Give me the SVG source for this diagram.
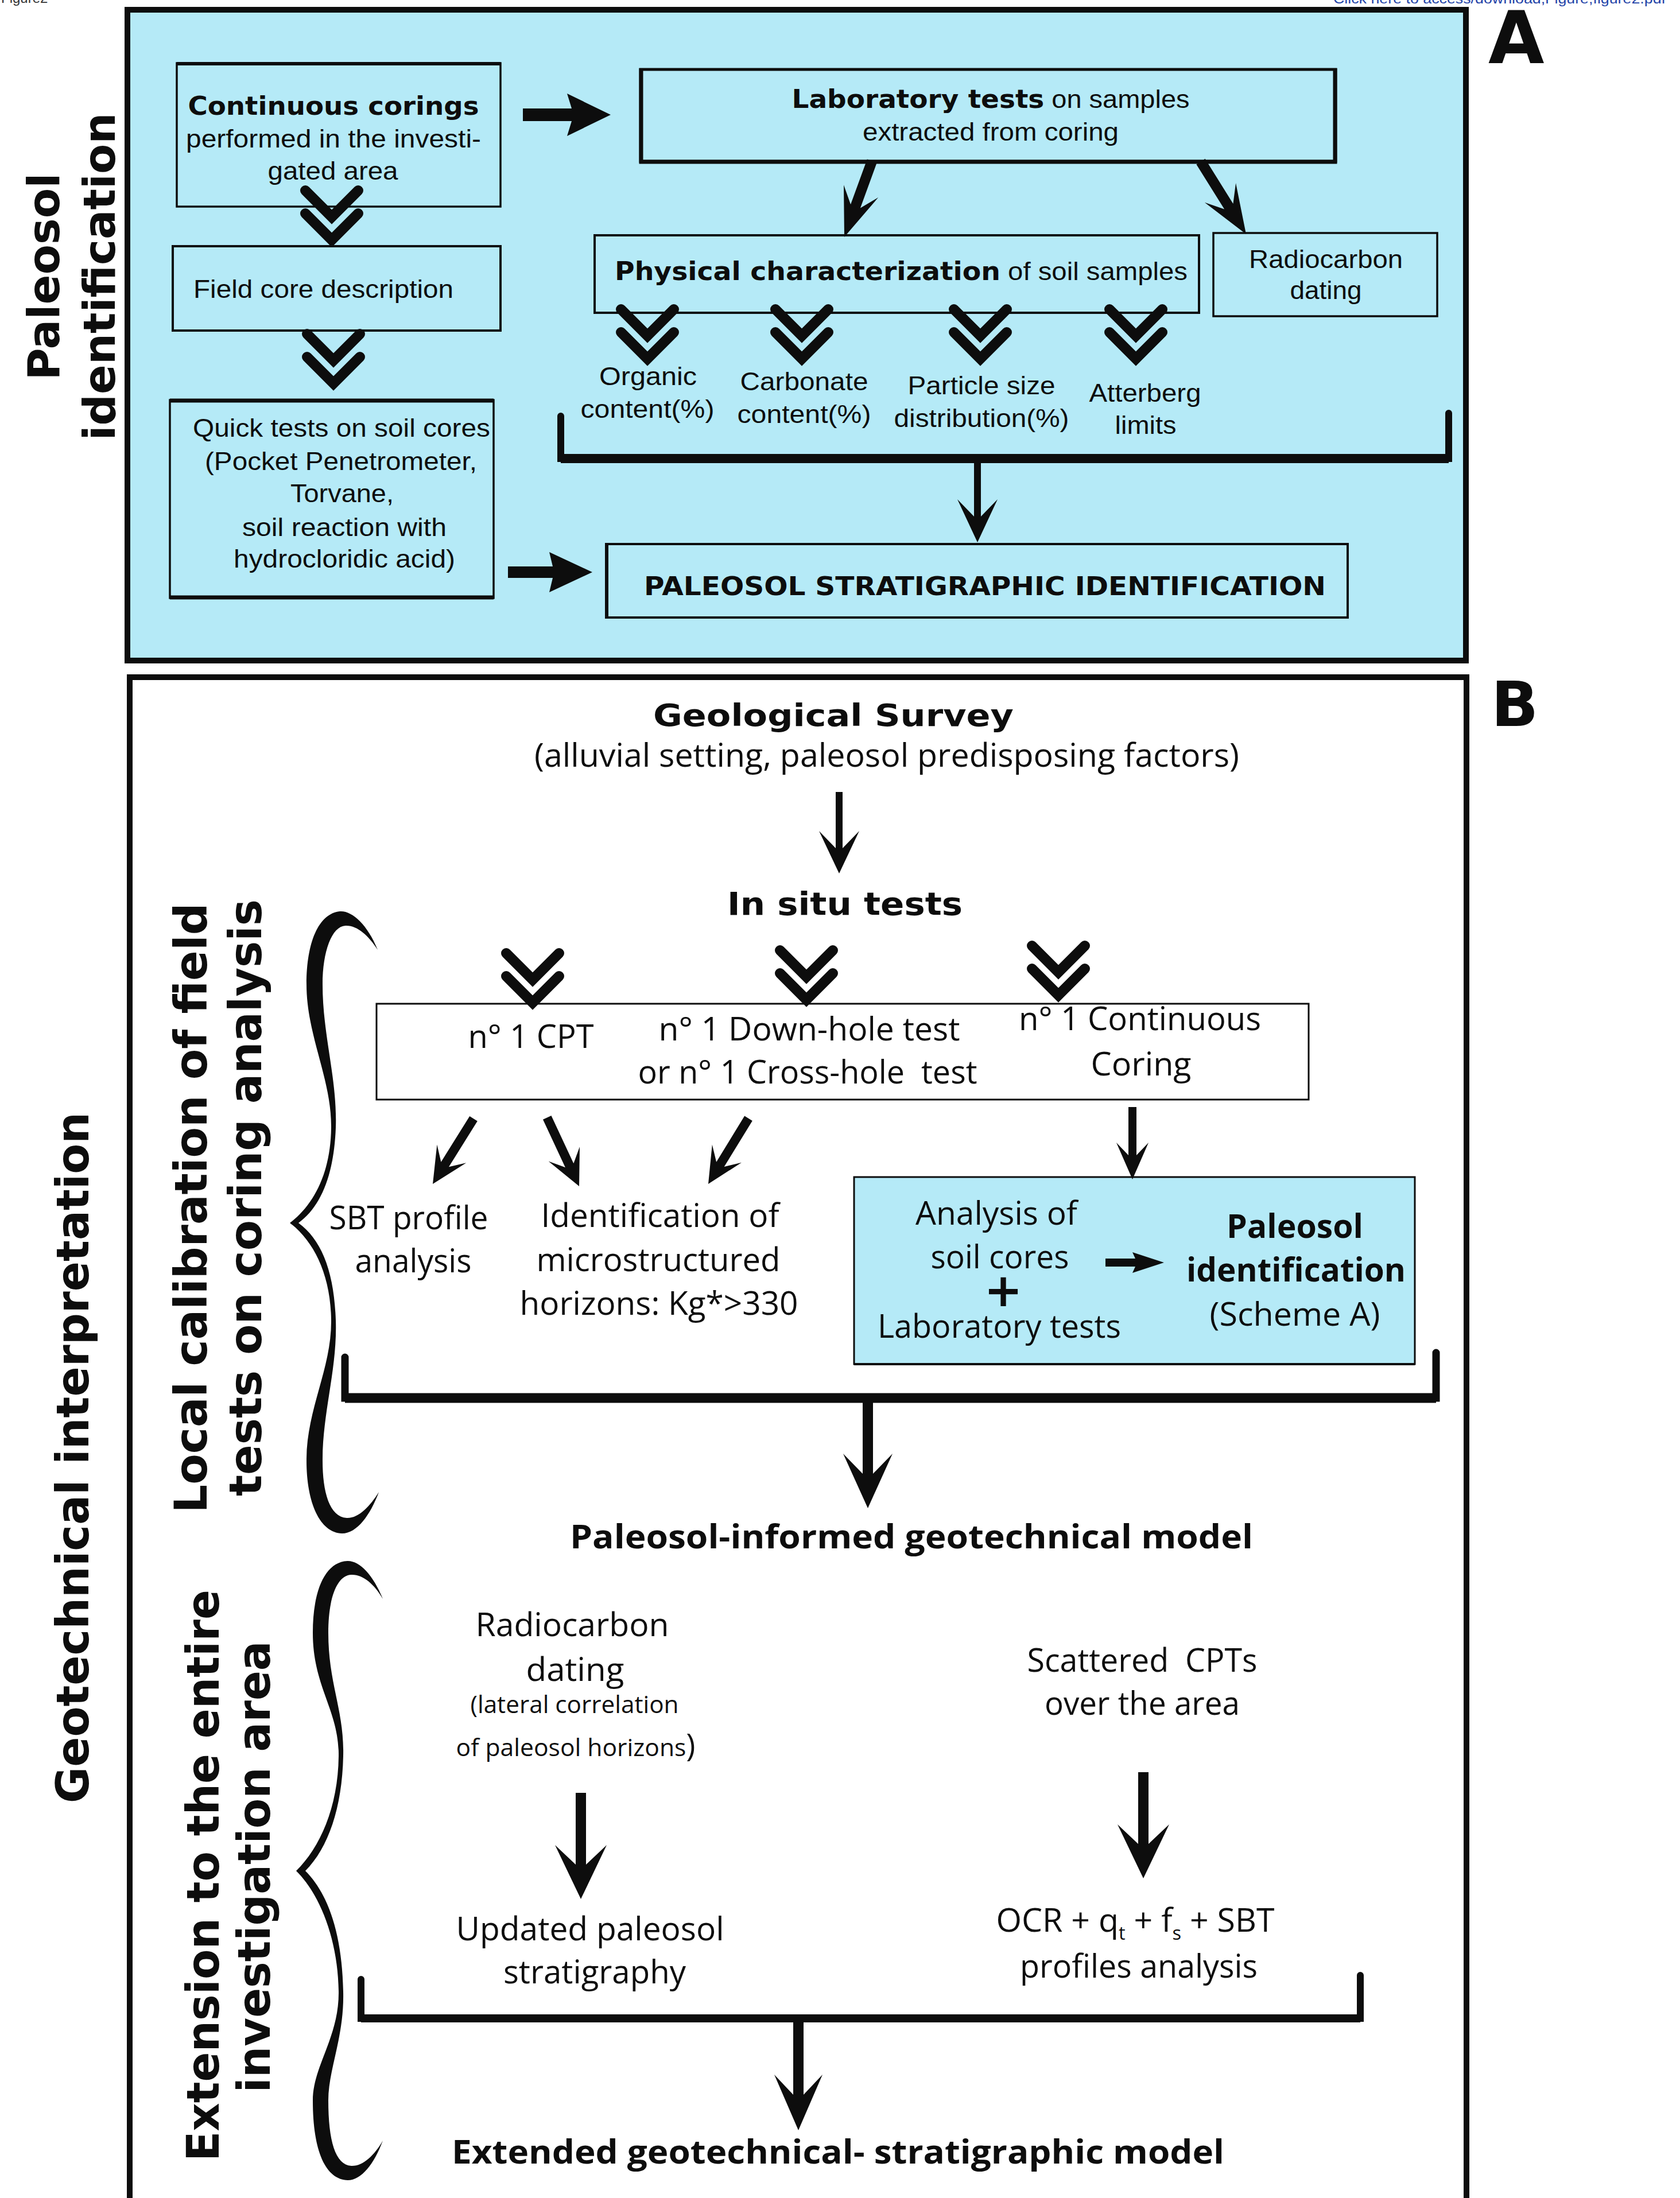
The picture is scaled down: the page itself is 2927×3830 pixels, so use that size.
<svg xmlns="http://www.w3.org/2000/svg" xmlns:xlink="http://www.w3.org/1999/xlink" width="2927" height="3830" viewBox="0 0 2927 3830">
<style>
text{fill:#0d0d0d}
.a{font-family:"Liberation Sans",Arial,sans-serif;font-size:44px}
.ab{font-family:"DejaVu Sans","Liberation Sans",sans-serif;font-weight:bold}
.b{font-family:"Open Sans","Noto Sans",sans-serif;font-size:56px}
.bs{font-family:"Open Sans","Noto Sans",sans-serif;font-size:42px}
.bb{font-family:"Open Sans","Noto Sans",sans-serif;font-weight:bold;font-size:58px}
.v{font-family:"DejaVu Sans","Liberation Sans",sans-serif;font-weight:bold;font-size:78px}
.m{text-anchor:middle}
.box{fill:#b5eaf7;stroke:#0d0d0d}
.wbox{fill:#ffffff;stroke:#0d0d0d}
.br{fill:none;stroke:#0d0d0d;stroke-linecap:round}
.arr{fill:#0d0d0d}
</style>
<defs>
<g id="dc" fill="none" stroke="#0d0d0d" stroke-width="18" stroke-linecap="round" stroke-linejoin="miter" stroke-miterlimit="6">
<polyline points="-46,0 0,46 46,0"/>
<polyline points="-46,40 0,86 46,40"/>
</g>
</defs>

<!-- header -->
<text x="2" y="5" font-family="Liberation Sans,Arial,sans-serif" font-size="24" style="fill:#333">Figure2</text>
<text x="2323" y="6" font-family="Liberation Sans,Arial,sans-serif" font-size="24" style="fill:#1f43a8" textLength="579" lengthAdjust="spacingAndGlyphs">Click here to access/download;Figure;figure2.pdf</text>

<!-- Panel frames -->
<g id="panelA">
<rect x="222" y="17" width="2332" height="1134" class="box" stroke-width="10"/>
<text x="2593" y="110" class="ab" font-size="126">A</text>
<text transform="translate(103,482) rotate(-90)" class="ab m" font-size="76" textLength="361" lengthAdjust="spacingAndGlyphs">Paleosol</text>
<text transform="translate(200,482) rotate(-90)" class="ab m" font-size="76" textLength="571" lengthAdjust="spacingAndGlyphs">identification</text>
</g>
<g id="panelB">
<rect x="226" y="1180" width="2329" height="2700" class="wbox" stroke-width="10"/>
<text x="2598" y="1265" class="ab" font-size="108">B</text>
<text transform="translate(154,2540) rotate(-90)" class="v m" font-size="80" textLength="1204" lengthAdjust="spacingAndGlyphs">Geotechnical interpretation</text>
<text transform="translate(360,2105) rotate(-90)" class="v m" font-size="76" textLength="1063" lengthAdjust="spacingAndGlyphs">Local calibration of field</text>
<text transform="translate(455,2087) rotate(-90)" class="v m" font-size="76" textLength="1040" lengthAdjust="spacingAndGlyphs">tests on coring analysis</text>
<text transform="translate(381,3268) rotate(-90)" class="v m" font-size="78" textLength="996" lengthAdjust="spacingAndGlyphs">Extension to the entire</text>
<text transform="translate(470,3253) rotate(-90)" class="v m" font-size="78" textLength="787" lengthAdjust="spacingAndGlyphs">investigation area</text>
</g>

<!-- Panel A nodes -->
<g id="continuous">
<rect x="308" y="110" width="564" height="250" class="box" stroke-width="3.5"/>
<line x1="308" y1="111" x2="872" y2="111" stroke="#0d0d0d" stroke-width="6"/>
<text x="581" y="200" class="ab m" font-size="44" textLength="507" lengthAdjust="spacingAndGlyphs">Continuous corings</text>
<text x="581" y="257" class="a m" textLength="514" lengthAdjust="spacingAndGlyphs">performed in the investi-</text>
<text x="580" y="313" class="a m" textLength="227" lengthAdjust="spacingAndGlyphs">gated area</text>
</g>
<g id="fieldcore">
<rect x="301" y="429" width="571" height="147" class="box" stroke-width="4"/>
<text x="337" y="519" class="a" textLength="453" lengthAdjust="spacingAndGlyphs">Field core description</text>
</g>
<g id="quicktests">
<rect x="296" y="697" width="564" height="345" class="box" stroke-width="3.5"/>
<line x1="296" y1="698" x2="860" y2="698" stroke="#0d0d0d" stroke-width="7"/>
<line x1="296" y1="1041" x2="860" y2="1041" stroke="#0d0d0d" stroke-width="7"/>
<text x="595" y="761" class="a m" textLength="518" lengthAdjust="spacingAndGlyphs">Quick tests on soil cores</text>
<text x="594" y="819" class="a m" textLength="474" lengthAdjust="spacingAndGlyphs">(Pocket Penetrometer,</text>
<text x="596" y="875" class="a m" textLength="180" lengthAdjust="spacingAndGlyphs">Torvane,</text>
<text x="600" y="934" class="a m" textLength="356" lengthAdjust="spacingAndGlyphs">soil reaction with</text>
<text x="600" y="989" class="a m" textLength="386" lengthAdjust="spacingAndGlyphs">hydrocloridic acid)</text>
</g>
<g id="labtests">
<rect x="1116" y="121" width="1211" height="160" class="box" stroke-width="5"/>
<path d="M1117,119 L1117,282 L2326,282 L2326,119" fill="none" stroke="#0d0d0d" stroke-width="7"/>
<text x="1726" y="188" class="a m" textLength="693" lengthAdjust="spacingAndGlyphs"><tspan class="ab" font-size="44">Laboratory tests</tspan> on samples</text>
<text x="1726" y="245" class="a m" textLength="446" lengthAdjust="spacingAndGlyphs">extracted from coring</text>
</g>
<g id="physical">
<rect x="1036" y="410" width="1053" height="135" class="box" stroke-width="4"/>
<text x="1570" y="488" class="a m" textLength="998" lengthAdjust="spacingAndGlyphs"><tspan class="ab" font-size="44">Physical characterization</tspan> of soil samples</text>
</g>
<g id="radiocarbonA">
<rect x="2114" y="406" width="390" height="145" class="box" stroke-width="3.5"/>
<text x="2310" y="467" class="a m" textLength="268" lengthAdjust="spacingAndGlyphs">Radiocarbon</text>
<text x="2310" y="521" class="a m" textLength="125" lengthAdjust="spacingAndGlyphs">dating</text>
</g>
<g id="organic">
<text x="1129" y="671" class="a m" textLength="170" lengthAdjust="spacingAndGlyphs">Organic</text>
<text x="1128" y="728" class="a m" textLength="233" lengthAdjust="spacingAndGlyphs">content(%)</text>
</g>
<g id="carbonate">
<text x="1401" y="680" class="a m" textLength="223" lengthAdjust="spacingAndGlyphs">Carbonate</text>
<text x="1401" y="737" class="a m" textLength="233" lengthAdjust="spacingAndGlyphs">content(%)</text>
</g>
<g id="particle">
<text x="1710" y="687" class="a m" textLength="257" lengthAdjust="spacingAndGlyphs">Particle size</text>
<text x="1710" y="744" class="a m" textLength="305" lengthAdjust="spacingAndGlyphs">distribution(%)</text>
</g>
<g id="atterberg">
<text x="1995" y="700" class="a m" textLength="195" lengthAdjust="spacingAndGlyphs">Atterberg</text>
<text x="1996" y="756" class="a m" textLength="107" lengthAdjust="spacingAndGlyphs">limits</text>
</g>
<g id="paleosolstrat">
<rect x="1056" y="948" width="1292" height="128" class="box" stroke-width="4"/>
<line x1="1057" y1="946" x2="1057" y2="1078" stroke="#0d0d0d" stroke-width="6"/>
<text x="1716" y="1037" class="ab m" font-size="44" textLength="1188" lengthAdjust="spacingAndGlyphs">PALEOSOL STRATIGRAPHIC IDENTIFICATION</text>
</g>

<!-- Panel B nodes -->
<g id="geosurvey">
<text x="1452" y="1265" class="ab m" font-size="54" textLength="628" lengthAdjust="spacingAndGlyphs">Geological Survey</text>
<text x="1545" y="1336" class="b m" textLength="1228" lengthAdjust="spacingAndGlyphs">(alluvial setting, paleosol predisposing factors)</text>
</g>
<g id="insitu">
<text x="1472" y="1594" class="ab m" font-size="56" textLength="410" lengthAdjust="spacingAndGlyphs">In situ tests</text>
</g>
<g id="insitubox">
<rect x="656" y="1749" width="1624" height="167" class="wbox" stroke-width="3"/>
<text x="925" y="1826" class="b m" textLength="219" lengthAdjust="spacingAndGlyphs">n° 1 CPT</text>
<text x="1410" y="1813" class="b m" textLength="525" lengthAdjust="spacingAndGlyphs">n° 1 Down-hole test</text>
<text x="1407" y="1888" class="b m" textLength="591" lengthAdjust="spacingAndGlyphs">or n° 1 Cross-hole&#160; test</text>
<text x="1986" y="1795" class="b m" textLength="422" lengthAdjust="spacingAndGlyphs">n° 1 Continuous</text>
<text x="1988" y="1874" class="b m" textLength="175" lengthAdjust="spacingAndGlyphs">Coring</text>
</g>
<g id="sbt">
<text x="712" y="2142" class="b m" textLength="277" lengthAdjust="spacingAndGlyphs">SBT profile</text>
<text x="720" y="2217" class="b m" textLength="203" lengthAdjust="spacingAndGlyphs">analysis</text>
</g>
<g id="microstructured">
<text x="1150" y="2138" class="b m" textLength="415" lengthAdjust="spacingAndGlyphs">Identification of</text>
<text x="1147" y="2215" class="b m" textLength="425" lengthAdjust="spacingAndGlyphs">microstructured</text>
<text x="1148" y="2291" class="b m" textLength="485" lengthAdjust="spacingAndGlyphs">horizons: Kg*&gt;330</text>
</g>
<g id="analysisbox">
<rect x="1488" y="2051" width="977" height="326" class="box" stroke-width="3"/>
<line x1="1488" y1="2377" x2="2465" y2="2377" stroke="#0d0d0d" stroke-width="4"/>
<text x="1736" y="2134" class="b m" textLength="282" lengthAdjust="spacingAndGlyphs">Analysis of</text>
<text x="1742" y="2210" class="b m" textLength="241" lengthAdjust="spacingAndGlyphs">soil cores</text>
<text x="1748" y="2276" class="ab m" font-size="80">+</text>
<text x="1741" y="2331" class="b m" textLength="424" lengthAdjust="spacingAndGlyphs">Laboratory tests</text>
<path class="arr" d="M1926,2193 L1978,2193 L1973,2182 L2028,2200 L1973,2218 L1978,2207 L1926,2207 Z"/>
<text x="2256" y="2157" class="bb m" textLength="238" lengthAdjust="spacingAndGlyphs">Paleosol</text>
<text x="2258" y="2233" class="bb m" textLength="382" lengthAdjust="spacingAndGlyphs">identification</text>
<text x="2256" y="2310" class="b m" textLength="297" lengthAdjust="spacingAndGlyphs">(Scheme A)</text>
</g>
<g id="informedmodel">
<text x="1588" y="2698" class="bb m" textLength="1190" lengthAdjust="spacingAndGlyphs">Paleosol-informed geotechnical model</text>
</g>
<g id="radiocarbonB">
<text x="997" y="2851" class="b m" textLength="337" lengthAdjust="spacingAndGlyphs">Radiocarbon</text>
<text x="1002" y="2929" class="b m" textLength="171" lengthAdjust="spacingAndGlyphs">dating</text>
<text x="1001" y="2985" class="bs m" textLength="363" lengthAdjust="spacingAndGlyphs">(lateral correlation</text>
<text x="1003" y="3060" class="bs m" textLength="417" lengthAdjust="spacingAndGlyphs">of paleosol horizons<tspan font-size="54">)</tspan></text>
</g>
<g id="scattered">
<text x="1990" y="2913" class="b m" textLength="401" lengthAdjust="spacingAndGlyphs">Scattered&#160; CPTs</text>
<text x="1990" y="2988" class="b m" textLength="340" lengthAdjust="spacingAndGlyphs">over the area</text>
</g>
<g id="updated">
<text x="1028" y="3381" class="b m" textLength="467" lengthAdjust="spacingAndGlyphs">Updated paleosol</text>
<text x="1036" y="3456" class="b m" textLength="318" lengthAdjust="spacingAndGlyphs">stratigraphy</text>
</g>
<g id="ocr">
<text x="1978" y="3366" class="b m" textLength="485" lengthAdjust="spacingAndGlyphs">OCR + q<tspan dy="14" font-size="32">t</tspan><tspan dy="-14"> + f</tspan><tspan dy="14" font-size="32">s</tspan><tspan dy="-14"> + SBT</tspan></text>
<text x="1984" y="3446" class="b m" textLength="414" lengthAdjust="spacingAndGlyphs">profiles analysis</text>
</g>
<g id="extendedmodel">
<text x="1460" y="3770" class="bb m" textLength="1346" lengthAdjust="spacingAndGlyphs">Extended geotechnical- stratigraphic model</text>
</g>

<!-- Connectors -->
<g id="connectors">
<!-- block arrows -->
<path class="arr" d="M911,189 L996,189 L988,163 L1064,200 L988,237 L996,211 L911,211 Z"/>
<path class="arr" d="M885,987 L963,987 L957,962 L1032,997 L957,1032 L963,1007 L885,1007 Z"/>
<!-- double chevrons -->
<use xlink:href="#dc" x="578" y="332"/>
<use xlink:href="#dc" x="581" y="582"/>
<use xlink:href="#dc" x="1128" y="539"/>
<use xlink:href="#dc" x="1397" y="539"/>
<use xlink:href="#dc" x="1708" y="539"/>
<use xlink:href="#dc" x="1979" y="539"/>
<use xlink:href="#dc" x="928" y="1661"/>
<use xlink:href="#dc" x="1405" y="1656"/>
<use xlink:href="#dc" x="1844" y="1648"/>
<!-- barbed arrows panel A -->
<path class="arr" transform="translate(1471,413) rotate(20)" d="M-9,-141 L-9,-57 L-32,-85 L0,0 L32,-85 L9,-57 L9,-141 Z"/>
<path class="arr" transform="translate(2171,408) rotate(-32)" d="M-9,-149 L-9,-57 L-32,-85 L0,0 L32,-85 L9,-57 L9,-149 Z"/>
<path class="arr" transform="translate(1703,945)" d="M-6,-140 L-6,-45 L-35,-75 L0,0 L35,-75 L6,-45 L6,-140 Z"/>
<!-- bracket A -->
<path class="br" d="M977,725 L977,799 L2524,799 L2524,720" stroke-width="12"/>
<line x1="977" y1="799" x2="2524" y2="799" stroke="#0d0d0d" stroke-width="16"/>
<!-- panel B arrows -->
<path class="arr" transform="translate(1462,1522)" d="M-6,-142 L-6,-44 L-35,-74 L0,0 L35,-74 L6,-44 L6,-142 Z"/>
<path class="arr" transform="translate(754,2063) rotate(32)" d="M-8,-134 L-8,-40 L-30,-62 L0,0 L30,-62 L8,-40 L8,-134 Z"/>
<path class="arr" transform="translate(1009,2067) rotate(-25)" d="M-8,-132 L-8,-40 L-30,-62 L0,0 L30,-62 L8,-40 L8,-132 Z"/>
<path class="arr" transform="translate(1234,2063) rotate(31.5)" d="M-8,-134 L-8,-40 L-30,-62 L0,0 L30,-62 L8,-40 L8,-134 Z"/>
<path class="arr" transform="translate(1973,2055)" d="M-7,-126 L-7,-42 L-28,-64 L0,0 L28,-64 L7,-42 L7,-126 Z"/>
<!-- bracket B1 -->
<path class="br" d="M601,2365 L601,2436 L2502,2436 L2502,2357" stroke-width="13"/>
<line x1="601" y1="2436" x2="2502" y2="2436" stroke="#0d0d0d" stroke-width="17"/>
<path class="arr" transform="translate(1512,2628)" d="M-9,-185 L-9,-60 L-43,-95 L0,0 L43,-95 L9,-60 L9,-185 Z"/>
<path class="arr" transform="translate(1012,3309)" d="M-9,-185 L-9,-60 L-45,-94 L0,0 L45,-94 L9,-60 L9,-185 Z"/>
<path class="arr" transform="translate(1992,3273)" d="M-9,-185 L-9,-60 L-45,-94 L0,0 L45,-94 L9,-60 L9,-185 Z"/>
<!-- bracket B2 -->
<path class="br" d="M629,3449 L629,3517 L2370,3517 L2370,3442" stroke-width="12"/>
<line x1="629" y1="3517" x2="2370" y2="3517" stroke="#0d0d0d" stroke-width="14"/>
<path class="arr" transform="translate(1391,3712)" d="M-9,-190 L-9,-62 L-42,-97 L0,0 L42,-97 L9,-62 L9,-190 Z"/>
<!-- curly braces -->
<path class="arr" d="M658,1655 C640,1610 612,1586 592,1588 C555,1592 534,1642 534,1715 C534,1805 578,1880 577,1965 C576,2045 546,2100 505,2131 C546,2162 576,2220 577,2300 C578,2385 534,2455 534,2545 C534,2620 558,2671 596,2672 C622,2672 645,2640 660,2600 C645,2624 625,2646 604,2645 C574,2643 562,2600 562,2545 C562,2460 588,2385 585,2300 C582,2215 560,2160 520,2131 C560,2102 582,2045 585,1965 C588,1880 562,1805 562,1715 C562,1658 578,1614 602,1613 C622,1612 642,1630 658,1655 Z"/>
<path class="arr" d="M667,2786 C650,2744 626,2719 605,2720 C566,2722 545,2772 545,2845 C545,2940 591,2980 590,3060 C589,3150 557,3220 516,3260 C557,3300 589,3380 590,3470 C591,3550 545,3600 545,3660 C545,3750 568,3798 606,3799 C630,3799 652,3770 667,3730 C652,3756 632,3775 612,3774 C584,3772 572,3730 572,3660 C572,3605 600,3550 598,3470 C596,3370 572,3300 532,3260 C572,3220 596,3150 598,3060 C600,2980 572,2935 572,2845 C572,2782 588,2745 612,2744 C632,2743 652,2760 667,2786 Z"/>
</g>
</svg>
